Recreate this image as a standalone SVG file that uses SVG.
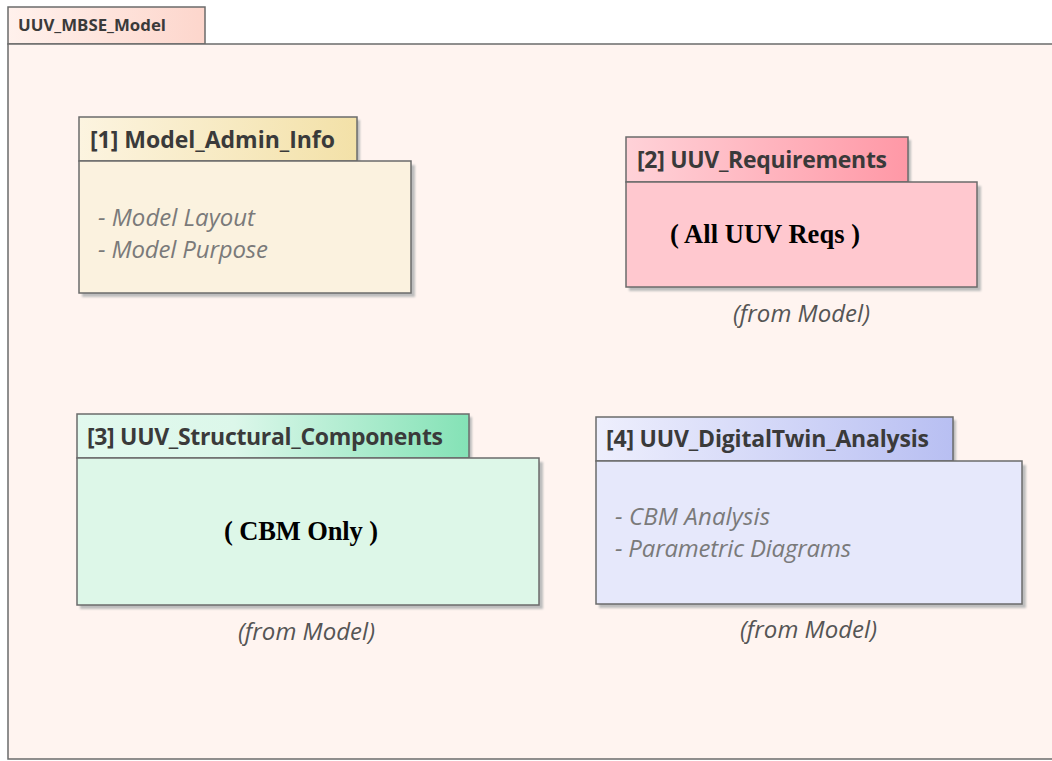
<svg xmlns="http://www.w3.org/2000/svg" width="1052" height="761" viewBox="0 0 1052 761">
  <defs>
    <linearGradient id="gOuter" x1="0" y1="0" x2="1" y2="0">
      <stop offset="0" stop-color="#fff1ec"/>
      <stop offset="1" stop-color="#fdd6cc"/>
    </linearGradient>
    <linearGradient id="g1" x1="0" y1="0" x2="1" y2="0">
      <stop offset="0" stop-color="#fcf4e0"/>
      <stop offset="1" stop-color="#f3e1a8"/>
    </linearGradient>
    <linearGradient id="g2" x1="0" y1="0" x2="1" y2="0">
      <stop offset="0" stop-color="#ffd2d8"/>
      <stop offset="1" stop-color="#ff98a6"/>
    </linearGradient>
    <linearGradient id="g3" x1="0" y1="0" x2="1" y2="0">
      <stop offset="0" stop-color="#e2f9ee"/>
      <stop offset="0.4" stop-color="#dcf7ea"/>
      <stop offset="1" stop-color="#84e2b6"/>
    </linearGradient>
    <linearGradient id="g4" x1="0" y1="0" x2="1" y2="0">
      <stop offset="0" stop-color="#eeeffd"/>
      <stop offset="1" stop-color="#b8bff2"/>
    </linearGradient>
    <filter id="soft" x="-5%" y="-5%" width="110%" height="110%">
      <feGaussianBlur stdDeviation="1"/>
    </filter>
  </defs>
  <style>
    .edge { stroke: #6b6b6b; stroke-width: 1.5; }
    .shadow { fill: #bdbdbd; filter: url(#soft); }
    .title { font-family: "Open Sans", "Noto Sans", sans-serif; font-weight: bold; font-size: 23px; fill: #3a3a3a; }
    .note { font-family: "Open Sans", "Noto Sans", sans-serif; font-style: italic; font-size: 24px; fill: #7a7a7a; }
    .from { font-family: "Open Sans", "Noto Sans", sans-serif; font-style: italic; font-size: 24px; fill: #555555; }
    .big { font-family: "Liberation Serif", "Times New Roman", serif; font-weight: bold; font-size: 26.5px; fill: #000000; }
  </style>

  <rect width="1052" height="761" fill="#ffffff"/>

  <!-- Enclosing package -->
  <g id="UUV_MBSE_Model">
    <rect x="8" y="7" width="197" height="37" fill="url(#gOuter)" class="edge"/>
    <rect x="8" y="44" width="1050" height="715" fill="#fff4f0" class="edge"/>
    <text x="18" y="31" font-family="'Open Sans', 'Noto Sans', sans-serif" font-weight="bold" font-size="16" fill="#3a3a3a" textLength="148" lengthAdjust="spacingAndGlyphs">UUV_MBSE_Model</text>
  </g>

  <!-- [1] Model_Admin_Info -->
  <g id="pkg1">
    <rect x="81" y="120" width="279" height="44" class="shadow"/>
    <rect x="82" y="165" width="333" height="132" class="shadow"/>
    <rect x="79" y="117" width="278" height="44" fill="url(#g1)" class="edge"/>
    <rect x="79" y="161" width="332" height="132" fill="#fbf2df" class="edge"/>
    <text x="90" y="148" class="title" textLength="245">[1] Model_Admin_Info</text>
    <text x="98" y="226" class="note" textLength="157">- Model Layout</text>
    <text x="98" y="258" class="note" textLength="170">- Model Purpose</text>
  </g>

  <!-- [2] UUV_Requirements -->
  <g id="pkg2">
    <rect x="628" y="140" width="283" height="44" class="shadow"/>
    <rect x="629" y="186" width="352" height="105" class="shadow"/>
    <rect x="626" y="137" width="282" height="45" fill="url(#g2)" class="edge"/>
    <rect x="626" y="182" width="351" height="105" fill="#ffc8cf" class="edge"/>
    <text x="637" y="168" class="title" textLength="250">[2] UUV_Requirements</text>
    <text x="670" y="243" class="big" textLength="190">( All UUV Reqs )</text>
    <text x="733" y="322" class="from" textLength="137">(from Model)</text>
  </g>

  <!-- [3] UUV_Structural_Components -->
  <g id="pkg3">
    <rect x="79" y="417" width="393" height="44" class="shadow"/>
    <rect x="80" y="462" width="463" height="147" class="shadow"/>
    <rect x="77" y="414" width="392" height="44" fill="url(#g3)" class="edge"/>
    <rect x="77" y="458" width="462" height="147" fill="#ddf7e8" class="edge"/>
    <text x="87" y="445" class="title" textLength="356">[3] UUV_Structural_Components</text>
    <text x="224" y="540" class="big" textLength="154">( CBM Only )</text>
    <text x="238" y="640" class="from" textLength="137">(from Model)</text>
  </g>

  <!-- [4] UUV_DigitalTwin_Analysis -->
  <g id="pkg4">
    <rect x="598" y="420" width="358" height="44" class="shadow"/>
    <rect x="599" y="465" width="427" height="143" class="shadow"/>
    <rect x="596" y="417" width="357" height="44" fill="url(#g4)" class="edge"/>
    <rect x="596" y="461" width="426" height="143" fill="#e6e8fb" class="edge"/>
    <text x="606" y="447" class="title" textLength="323">[4] UUV_DigitalTwin_Analysis</text>
    <text x="615" y="525" class="note" textLength="155">- CBM Analysis</text>
    <text x="615" y="557" class="note" textLength="236">- Parametric Diagrams</text>
    <text x="740" y="638" class="from" textLength="137">(from Model)</text>
  </g>

  <!-- no connectors in this view -->
  <g id="connectors"/>
</svg>
